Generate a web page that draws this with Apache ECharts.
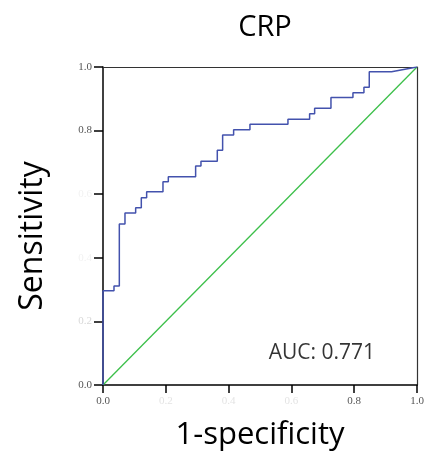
<!DOCTYPE html>
<html lang="en">
<head>
    <meta charset="UTF-8">
    <title>CRP ROC</title>
    <script src="https://cdn.jsdelivr.net/npm/echarts@6/dist/echarts.min.js"></script>
    <style>
        body { margin: 0; padding: 0; background: #fff; }
        #chart { width: 426px; height: 452px; }
    </style>
</head>
<body>
    <div id="chart"></div>
    <script>
        // ROC curve vertices
        var fpr = [0, 0, 0.035, 0.035, 0.052, 0.052, 0.07, 0.07, 0.104, 0.104, 0.122, 0.122,
            0.139, 0.139, 0.191, 0.191, 0.208, 0.208, 0.295, 0.295, 0.312, 0.312, 0.364, 0.364,
            0.381, 0.381, 0.416, 0.416, 0.468, 0.468, 0.589, 0.589, 0.658, 0.658, 0.674, 0.674,
            0.726, 0.726, 0.796, 0.796, 0.831, 0.831, 0.848, 0.848, 0.919, 1];
        var tpr = [0, 0.296, 0.296, 0.311, 0.311, 0.506, 0.506, 0.541, 0.541, 0.557, 0.557, 0.589,
            0.589, 0.608, 0.608, 0.639, 0.639, 0.655, 0.655, 0.689, 0.689, 0.704, 0.704, 0.738,
            0.738, 0.786, 0.786, 0.803, 0.803, 0.820, 0.820, 0.836, 0.836, 0.853, 0.853, 0.870,
            0.870, 0.904, 0.904, 0.919, 0.919, 0.936, 0.936, 0.985, 0.985, 1];
        var refX = [0, 1];
        var refY = [0, 1];
        var auc = 0.771;
        // labels that are barely visible in the original
        var faintTicks = ['0.2', '0.4', '0.6'];
        var faintTicksY = ['0.4', '0.6'];

        var rocData = fpr.map(function (x, i) { return [x, tpr[i]]; });
        var refData = refX.map(function (x, i) { return [x, refY[i]]; });

        var chart = echarts.init(document.getElementById('chart'));
        chart.setOption({
            animation: false,
            title: [{
                text: 'CRP',
                left: 260, top: 8, textAlign: 'center',
                textStyle: { fontFamily: 'Open Sans', fontSize: 29, fontWeight: 'normal', color: '#000' }
            }],
            graphic: [{
                type: 'text', x: 17, y: 236, rotation: Math.PI / 2,
                style: {
                    text: 'Sensitivity', align: 'center', verticalAlign: 'top',
                    font: '32px "Open Sans"', fill: '#000'
                }
            }],
            grid: { left: 103, top: 67, width: 314, height: 318, outerBoundsMode: 'none' },
            xAxis: [{
                type: 'value', min: 0, max: 1, interval: 0.2, position: 'bottom',
                name: '1-specificity', nameLocation: 'middle', nameGap: 35,
                nameTextStyle: { fontFamily: 'Open Sans', fontSize: 31, color: '#000' },
                axisLine: { show: true, onZero: false, lineStyle: { color: '#000', width: 1.5 } },
                axisTick: { show: true, length: 8, lineStyle: { color: '#000', width: 1.5 } },
                splitLine: { show: false },
                axisLabel: {
                    margin: 11,
                    formatter: function (v) {
                        var s = v.toFixed(1);
                        return faintTicks.indexOf(s) >= 0 ? '{f|' + s + '}' : s;
                    },
                    fontFamily: 'Liberation Serif', fontSize: 11, color: '#555',
                    rich: { f: { fontFamily: 'Liberation Serif', fontSize: 11, color: '#e4e4e4' } }
                }
            }, {
                type: 'value', min: 0, max: 1, position: 'top',
                axisLine: { show: true, onZero: false, lineStyle: { color: '#333', width: 1.2 } },
                axisTick: { show: false }, axisLabel: { show: false }, splitLine: { show: false }
            }],
            yAxis: [{
                type: 'value', min: 0, max: 1, interval: 0.2, position: 'left',
                axisLine: { show: true, onZero: false, lineStyle: { color: '#000', width: 1.5 } },
                axisTick: { show: true, length: 9, lineStyle: { color: '#000', width: 1.5 } },
                splitLine: { show: false },
                axisLabel: {
                    margin: 11,
                    formatter: function (v) {
                        var s = v.toFixed(1);
                        if (faintTicksY.indexOf(s) >= 0) return '{g|' + s + '}';
                        if (s === '0.2') return '{f|' + s + '}';
                        return s;
                    },
                    fontFamily: 'Liberation Serif', fontSize: 11, color: '#555',
                    rich: {
                        f: { fontFamily: 'Liberation Serif', fontSize: 11, color: '#d8d8d8' },
                        g: { fontFamily: 'Liberation Serif', fontSize: 11, color: '#f2f2f2' }
                    }
                }
            }, {
                type: 'value', min: 0, max: 1, position: 'right',
                axisLine: { show: true, onZero: false, lineStyle: { color: '#333', width: 1.2 } },
                axisTick: { show: false }, axisLabel: { show: false }, splitLine: { show: false }
            }],
            series: [{
                name: 'Reference', type: 'line', data: refData,
                symbol: 'none', lineStyle: { color: '#3cbf4a', width: 1.3 }, z: 2
            }, {
                name: 'CRP', type: 'line', data: rocData,
                symbol: 'none', lineStyle: { color: '#4352ad', width: 1.5 }, z: 3
            }, {
                // AUC annotation anchored in data space
                type: 'scatter', symbolSize: 1, silent: true,
                itemStyle: { color: 'rgba(0,0,0,0)' },
                data: [[0.697, 0.1]],
                label: {
                    show: true, position: 'inside',
                    formatter: 'AUC: ' + auc.toFixed(3),
                    fontFamily: 'Open Sans', fontSize: 21, color: '#000',
                    textBorderWidth: 0
                }
            }]
        });
    </script>
</body>
</html>
